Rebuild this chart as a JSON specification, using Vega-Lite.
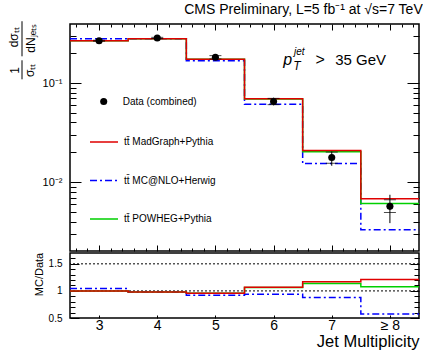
{
  "$schema": "https://vega.github.io/schema/vega-lite/v6.json",
  "background": "white",
  "padding": {"left": 7, "top": 2, "right": 2, "bottom": 2},
  "title": {"text": "CMS Preliminary, L=5 fb⁻¹ at √s=7 TeV", "anchor": "end", "fontSize": 14, "fontWeight": "normal", "font": "Liberation Sans", "offset": 3, "color": "black"},
  "config": {
    "font": "Liberation Sans",
    "view": {"stroke": "black", "strokeWidth": 1.5},
    "axis": {"grid": false, "domain": false, "tickColor": "black", "tickWidth": 1, "labelColor": "black", "titleColor": "black", "labelFont": "Liberation Sans", "titleFont": "Liberation Sans", "titleFontWeight": "normal", "labelOverlap": false, "labelBound": false}
  },
  "datasets": {
    "mc": [
      {"edge": 2.5, "series": "tt\u0304 MC@NLO+Herwig", "value": 0.279},
      {"edge": 3.5, "series": "tt\u0304 MC@NLO+Herwig", "value": 0.280},
      {"edge": 4.5, "series": "tt\u0304 MC@NLO+Herwig", "value": 0.168},
      {"edge": 5.5, "series": "tt\u0304 MC@NLO+Herwig", "value": 0.061},
      {"edge": 6.5, "series": "tt\u0304 MC@NLO+Herwig", "value": 0.0154},
      {"edge": 7.5, "series": "tt\u0304 MC@NLO+Herwig", "value": 0.0033},
      {"edge": 8.5, "series": "tt\u0304 MC@NLO+Herwig", "value": 0.0033},
      {"edge": 2.5, "series": "tt\u0304 POWHEG+Pythia", "value": 0.267},
      {"edge": 3.5, "series": "tt\u0304 POWHEG+Pythia", "value": 0.280},
      {"edge": 4.5, "series": "tt\u0304 POWHEG+Pythia", "value": 0.174},
      {"edge": 5.5, "series": "tt\u0304 POWHEG+Pythia", "value": 0.069},
      {"edge": 6.5, "series": "tt\u0304 POWHEG+Pythia", "value": 0.0203},
      {"edge": 7.5, "series": "tt\u0304 POWHEG+Pythia", "value": 0.0061},
      {"edge": 8.5, "series": "tt\u0304 POWHEG+Pythia", "value": 0.0061},
      {"edge": 2.5, "series": "tt\u0304 MadGraph+Pythia", "value": 0.267},
      {"edge": 3.5, "series": "tt\u0304 MadGraph+Pythia", "value": 0.280},
      {"edge": 4.5, "series": "tt\u0304 MadGraph+Pythia", "value": 0.174},
      {"edge": 5.5, "series": "tt\u0304 MadGraph+Pythia", "value": 0.0695},
      {"edge": 6.5, "series": "tt\u0304 MadGraph+Pythia", "value": 0.0208},
      {"edge": 7.5, "series": "tt\u0304 MadGraph+Pythia", "value": 0.0068},
      {"edge": 8.5, "series": "tt\u0304 MadGraph+Pythia", "value": 0.0068}
    ],
    "ratio": [
      {"edge": 2.5, "series": "tt\u0304 MC@NLO+Herwig", "ratio": 1.043},
      {"edge": 3.5, "series": "tt\u0304 MC@NLO+Herwig", "ratio": 0.98},
      {"edge": 4.5, "series": "tt\u0304 MC@NLO+Herwig", "ratio": 0.918},
      {"edge": 5.5, "series": "tt\u0304 MC@NLO+Herwig", "ratio": 0.94},
      {"edge": 6.5, "series": "tt\u0304 MC@NLO+Herwig", "ratio": 0.88},
      {"edge": 7.5, "series": "tt\u0304 MC@NLO+Herwig", "ratio": 0.575},
      {"edge": 8.5, "series": "tt\u0304 MC@NLO+Herwig", "ratio": 0.575},
      {"edge": 2.5, "series": "tt\u0304 POWHEG+Pythia", "ratio": 1.0},
      {"edge": 3.5, "series": "tt\u0304 POWHEG+Pythia", "ratio": 0.98},
      {"edge": 4.5, "series": "tt\u0304 POWHEG+Pythia", "ratio": 0.955},
      {"edge": 5.5, "series": "tt\u0304 POWHEG+Pythia", "ratio": 1.065},
      {"edge": 6.5, "series": "tt\u0304 POWHEG+Pythia", "ratio": 1.137},
      {"edge": 7.5, "series": "tt\u0304 POWHEG+Pythia", "ratio": 1.075},
      {"edge": 8.5, "series": "tt\u0304 POWHEG+Pythia", "ratio": 1.075},
      {"edge": 2.5, "series": "tt\u0304 MadGraph+Pythia", "ratio": 1.0},
      {"edge": 3.5, "series": "tt\u0304 MadGraph+Pythia", "ratio": 0.98},
      {"edge": 4.5, "series": "tt\u0304 MadGraph+Pythia", "ratio": 0.955},
      {"edge": 5.5, "series": "tt\u0304 MadGraph+Pythia", "ratio": 1.07},
      {"edge": 6.5, "series": "tt\u0304 MadGraph+Pythia", "ratio": 1.17},
      {"edge": 7.5, "series": "tt\u0304 MadGraph+Pythia", "ratio": 1.21},
      {"edge": 8.5, "series": "tt\u0304 MadGraph+Pythia", "ratio": 1.21}
    ],
    "obs": [
      {"bin": 3, "series": "Data (combined)", "y": 0.267, "lo": 0.262, "hi": 0.272, "ilo": 0.264, "ihi": 0.270},
      {"bin": 4, "series": "Data (combined)", "y": 0.285, "lo": 0.279, "hi": 0.291, "ilo": 0.281, "ihi": 0.289},
      {"bin": 5, "series": "Data (combined)", "y": 0.182, "lo": 0.172, "hi": 0.193, "ilo": 0.175, "ihi": 0.189},
      {"bin": 6, "series": "Data (combined)", "y": 0.065, "lo": 0.0595, "hi": 0.0712, "ilo": 0.0605, "ihi": 0.070},
      {"bin": 7, "series": "Data (combined)", "y": 0.0177, "lo": 0.01463, "hi": 0.0204, "ilo": 0.0155, "ihi": 0.0201},
      {"bin": 8, "series": "Data (combined)", "y": 0.0057, "lo": 0.00386, "hi": 0.00746, "ilo": 0.00494, "ihi": 0.00664}
    ],
    "levels": [{"level": 1}, {"level": 1.5}],
    "blank": [{}]
  },
  "spacing": -2,
  "resolve": {"scale": {"color": "independent", "strokeDash": "independent"}},
  "vconcat": [
    {
      "width": 349,
      "height": 227,
      "resolve": {"axis": {"x": "independent", "y": "independent"}},
      "layer": [
        {
          "data": {"name": "mc"},
          "mark": {"type": "line", "interpolate": "step-after", "strokeWidth": 1.5},
          "encoding": {
            "x": {"field": "edge", "type": "quantitative", "scale": {"domain": [2.5, 8.5], "nice": false, "zero": false},
              "axis": {"orient": "bottom", "values": [3, 4, 5, 6, 7, 8], "labels": false, "title": null, "tickSize": -6}},
            "y": {"field": "value", "type": "quantitative", "scale": {"type": "log", "domain": [0.00202, 0.394], "nice": false},
              "axis": {"orient": "left", "values": [0.01, 0.1],
                "labelExpr": "datum.value == 0.1 ? '10⁻¹' : '10⁻²'",
                "tickSize": -11, "labelPadding": 19, "labelFontSize": 11, "title": null}},
            "color": {"field": "series", "type": "nominal",
              "scale": {"domain": ["tt\u0304 MadGraph+Pythia", "tt\u0304 MC@NLO+Herwig", "tt\u0304 POWHEG+Pythia"], "range": ["#e00000", "#0000ff", "#00d000"]},
              "legend": {"orient": "none", "legendX": 19, "legendY": 103, "title": null, "padding": 0, "symbolType": "stroke", "symbolSize": 784, "symbolStrokeWidth": 1.5,
                "labelFontSize": 10, "labelFont": "Liberation Sans", "labelColor": "black", "labelOffset": 5, "rowPadding": 18.5, "labelLimit": 300, "symbolOpacity": 1}},
            "strokeDash": {"field": "series", "type": "nominal",
              "scale": {"domain": ["tt\u0304 MadGraph+Pythia", "tt\u0304 MC@NLO+Herwig", "tt\u0304 POWHEG+Pythia"], "range": [[1, 0], [7, 3, 2, 3], [1, 0]]}}
          }
        },
        {
          "data": {"name": "obs"},
          "mark": {"type": "rule", "color": "black", "strokeWidth": 1},
          "encoding": {
            "x": {"field": "bin", "type": "quantitative",
              "axis": {"orient": "top", "values": [3, 4, 5, 6, 7, 8], "labels": false, "title": null, "tickSize": -6}},
            "y": {"field": "lo", "type": "quantitative",
              "axis": {"orient": "right", "values": [0.01, 0.1], "labels": false, "title": null, "tickSize": -12}},
            "y2": {"field": "hi"}
          }
        },
        {
          "data": {"name": "obs"},
          "mark": {"type": "tick", "orient": "horizontal", "size": 12, "thickness": 1, "color": "black"},
          "encoding": {
            "x": {"field": "bin", "type": "quantitative",
              "axis": {"orient": "bottom", "values": [2.6,2.8,3.2,3.4,3.6,3.8,4.2,4.4,4.6,4.8,5.2,5.4,5.6,5.8,6.2,6.4,6.6,6.8,7.2,7.4,7.6,7.8,8.2,8.4], "labels": false, "title": null, "tickSize": -3}},
            "y": {"field": "ilo", "type": "quantitative",
              "axis": {"orient": "left", "values": [0.003,0.004,0.005,0.006,0.007,0.008,0.009,0.02,0.03,0.04,0.05,0.06,0.07,0.08,0.09,0.2,0.3], "labels": false, "title": null, "tickSize": -6}}
          }
        },
        {
          "data": {"name": "obs"},
          "mark": {"type": "tick", "orient": "horizontal", "size": 12, "thickness": 1, "color": "black"},
          "encoding": {
            "x": {"field": "bin", "type": "quantitative",
              "axis": {"orient": "top", "values": [2.6,2.8,3.2,3.4,3.6,3.8,4.2,4.4,4.6,4.8,5.2,5.4,5.6,5.8,6.2,6.4,6.6,6.8,7.2,7.4,7.6,7.8,8.2,8.4], "labels": false, "title": null, "tickSize": -3}},
            "y": {"field": "ihi", "type": "quantitative",
              "axis": {"orient": "right", "values": [0.003,0.004,0.005,0.006,0.007,0.008,0.009,0.02,0.03,0.04,0.05,0.06,0.07,0.08,0.09,0.2,0.3], "labels": false, "title": null, "tickSize": -6}}
          }
        },
        {
          "data": {"name": "obs"},
          "mark": {"type": "point", "filled": true, "opacity": 1, "size": 50, "color": "black"},
          "encoding": {
            "x": {"field": "bin", "type": "quantitative", "axis": null},
            "y": {"field": "y", "type": "quantitative", "axis": null},
            "shape": {"field": "series", "type": "nominal",
              "scale": {"domain": ["Data (combined)"], "range": ["circle"]},
              "legend": {"orient": "none", "legendX": 28.7, "legendY": 72.5, "title": null, "padding": 0, "symbolSize": 50, "symbolFillColor": "black", "symbolStrokeColor": "black",
                "labelFontSize": 10, "labelFont": "Liberation Sans", "labelColor": "black", "labelOffset": 14, "labelLimit": 300, "symbolOpacity": 1}}
          }
        },
        {
          "data": {"name": "blank"},
          "mark": {"type": "text", "text": "dσₜₜ", "font": "Liberation Sans", "fontSize": 12, "angle": 270, "align": "center", "baseline": "middle", "color": "black"},
          "encoding": {"x": {"datum": 1.537, "type": "quantitative", "axis": null}, "y": {"datum": 0.2894, "type": "quantitative", "axis": null}}
        },
        {
          "data": {"name": "blank"},
          "mark": {"type": "text", "text": "dNⱼₑₜₛ", "font": "Liberation Sans", "fontSize": 12, "angle": 270, "align": "center", "baseline": "middle", "color": "black"},
          "encoding": {"x": {"datum": 1.83, "type": "quantitative", "axis": null}, "y": {"datum": 0.2828, "type": "quantitative", "axis": null}}
        },
        {
          "data": {"name": "blank"},
          "mark": {"type": "text", "text": "1", "font": "Liberation Sans", "fontSize": 12, "angle": 270, "align": "center", "baseline": "middle", "color": "black"},
          "encoding": {"x": {"datum": 1.555, "type": "quantitative", "axis": null}, "y": {"datum": 0.1344, "type": "quantitative", "axis": null}}
        },
        {
          "data": {"name": "blank"},
          "mark": {"type": "text", "text": "σₜₜ", "font": "Liberation Sans", "fontSize": 12, "angle": 270, "align": "center", "baseline": "middle", "color": "black"},
          "encoding": {"x": {"datum": 1.81, "type": "quantitative", "axis": null}, "y": {"datum": 0.1344, "type": "quantitative", "axis": null}}
        },
        {
          "data": {"name": "blank"},
          "mark": {"type": "rule", "color": "black", "strokeWidth": 1},
          "encoding": {"x": {"datum": 1.675, "type": "quantitative", "axis": null}, "y": {"datum": 0.42, "type": "quantitative", "axis": null}, "y2": {"datum": 0.186}}
        },
        {
          "data": {"name": "blank"},
          "mark": {"type": "rule", "color": "black", "strokeWidth": 1},
          "encoding": {"x": {"datum": 1.675, "type": "quantitative", "axis": null}, "y": {"datum": 0.1696, "type": "quantitative", "axis": null}, "y2": {"datum": 0.109}}
        },
        {
          "data": {"name": "blank"},
          "mark": {"type": "text", "text": "p", "font": "Liberation Sans", "fontSize": 16, "fontStyle": "italic", "align": "left", "baseline": "alphabetic", "color": "black"},
          "encoding": {"x": {"datum": 6.167, "type": "quantitative", "axis": null}, "y": {"datum": 0.1509, "type": "quantitative", "axis": null}}
        },
        {
          "data": {"name": "blank"},
          "mark": {"type": "text", "text": "jet", "font": "Liberation Sans", "fontSize": 10, "fontStyle": "italic", "align": "left", "baseline": "alphabetic", "color": "black"},
          "encoding": {"x": {"datum": 6.351, "type": "quantitative", "axis": null}, "y": {"datum": 0.1905, "type": "quantitative", "axis": null}}
        },
        {
          "data": {"name": "blank"},
          "mark": {"type": "text", "text": "T", "font": "Liberation Sans", "fontSize": 12, "fontStyle": "italic", "align": "left", "baseline": "alphabetic", "color": "black"},
          "encoding": {"x": {"datum": 6.34, "type": "quantitative", "axis": null}, "y": {"datum": 0.1366, "type": "quantitative", "axis": null}}
        },
        {
          "data": {"name": "blank"},
          "mark": {"type": "text", "text": ">", "font": "Liberation Sans", "fontSize": 16, "align": "left", "baseline": "alphabetic", "color": "black"},
          "encoding": {"x": {"datum": 6.72, "type": "quantitative", "axis": null}, "y": {"datum": 0.1509, "type": "quantitative", "axis": null}}
        },
        {
          "data": {"name": "blank"},
          "mark": {"type": "text", "text": "35 GeV", "font": "Liberation Sans", "fontSize": 15, "align": "left", "baseline": "alphabetic", "color": "black"},
          "encoding": {"x": {"datum": 7.06, "type": "quantitative", "axis": null}, "y": {"datum": 0.1509, "type": "quantitative", "axis": null}}
        }
      ]
    },
    {
      "width": 349,
      "height": 65,
      "resolve": {"axis": {"y": "independent"}},
      "layer": [
        {
          "data": {"name": "levels"},
          "mark": {"type": "rule", "color": "black", "strokeWidth": 1, "strokeDash": [2, 2]},
          "encoding": {
            "y": {"field": "level", "type": "quantitative",
              "axis": {"orient": "right", "values": [0.5, 1, 1.5], "labels": false, "title": null, "tickSize": -9}}
          }
        },
        {
          "data": {"name": "levels"},
          "mark": {"type": "rule", "opacity": 0},
          "encoding": {
            "y": {"field": "level", "type": "quantitative",
              "axis": {"orient": "right", "values": [0.6,0.7,0.8,0.9,1.1,1.2,1.3,1.4,1.6], "labels": false, "title": null, "tickSize": -5}}
          }
        },
        {
          "data": {"name": "levels"},
          "mark": {"type": "rule", "opacity": 0},
          "encoding": {
            "y": {"field": "level", "type": "quantitative",
              "axis": {"orient": "left", "values": [0.6,0.7,0.8,0.9,1.1,1.2,1.3,1.4,1.6], "labels": false, "title": null, "tickSize": -5}}
          }
        },
        {
          "data": {"name": "ratio"},
          "mark": {"type": "line", "interpolate": "step-after", "strokeWidth": 1.5},
          "encoding": {
            "x": {"field": "edge", "type": "quantitative", "scale": {"domain": [2.5, 8.5], "nice": false, "zero": false},
              "axis": {"orient": "bottom", "values": [3, 4, 5, 6, 7, 8], "labelExpr": "datum.value == 8 ? '≥ 8' : datum.value", "labelFontSize": 14, "labelPadding": 3, "tickSize": -3,
                "title": "Jet Multiplicity", "titleAnchor": "end", "titleFontSize": 16.5, "titlePadding": 1}},
            "y": {"field": "ratio", "type": "quantitative", "scale": {"domain": [0.5, 1.7], "nice": false, "zero": false},
              "axis": {"orient": "left", "values": [0.5, 1, 1.5],
                "labelExpr": "datum.value == 0.5 ? '0.5' : datum.value == 1 ? '1' : '1.5'",
                "tickSize": -9, "labelPadding": 17, "labelFontSize": 10,
                "title": "MC/Data", "titleFontSize": 11, "titleX": -31, "titleY": 21, "titleAlign": "center", "titleBaseline": "middle", "titleAngle": 270}},
            "color": {"field": "series", "type": "nominal",
              "scale": {"domain": ["tt\u0304 MadGraph+Pythia", "tt\u0304 MC@NLO+Herwig", "tt\u0304 POWHEG+Pythia"], "range": ["#e00000", "#0000ff", "#00d000"]}, "legend": null},
            "strokeDash": {"field": "series", "type": "nominal",
              "scale": {"domain": ["tt\u0304 MadGraph+Pythia", "tt\u0304 MC@NLO+Herwig", "tt\u0304 POWHEG+Pythia"], "range": [[1, 0], [7, 3, 2, 3], [1, 0]]}, "legend": null}
          }
        }
      ]
    }
  ]
}
